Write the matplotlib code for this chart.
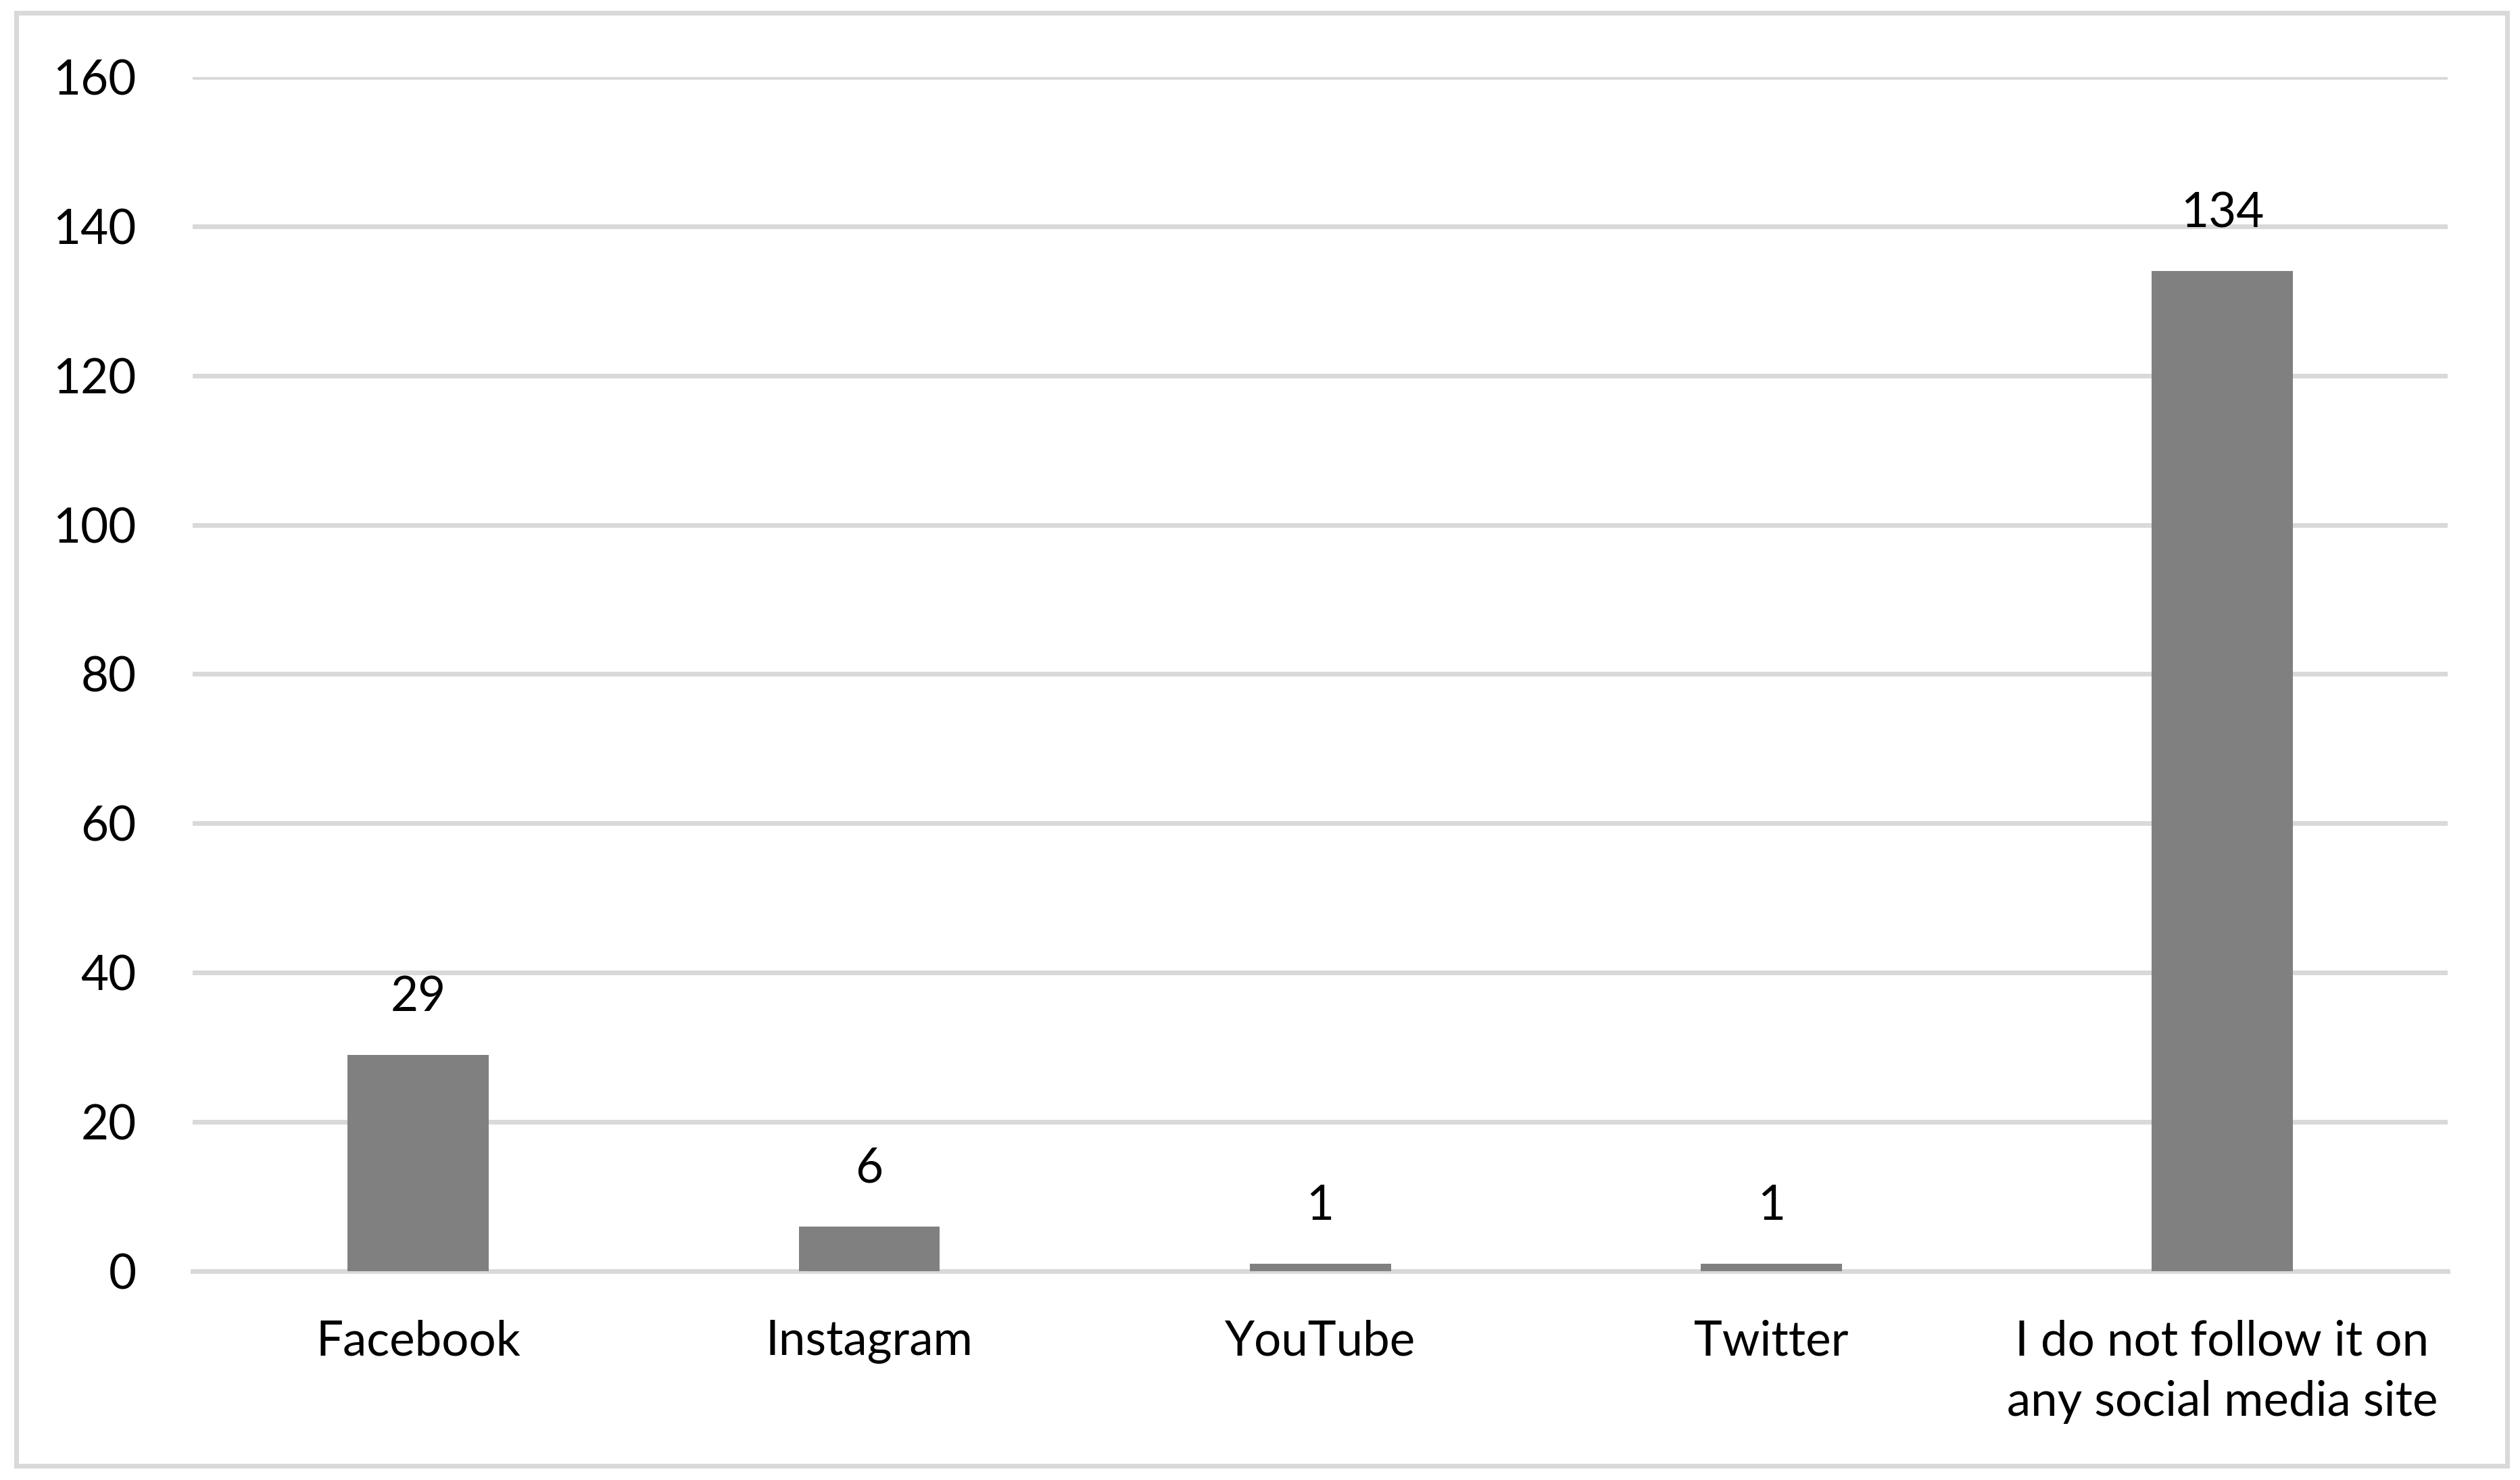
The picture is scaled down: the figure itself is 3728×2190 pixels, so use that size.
import matplotlib.pyplot as plt
from matplotlib.patches import Rectangle

# Dados
categorias = ['Facebook', 'Instagram', 'YouTube', 'Twitter',
              'I do not follow it on\nany social media site']
valores = [29, 6, 1, 1, 134]
ticks_y = [0, 20, 40, 60, 80, 100, 120, 140, 160]

plt.rcParams['font.family'] = ['Lato', 'DejaVu Sans']

fig = plt.figure(figsize=(18.64, 10.95), dpi=200)
ax = fig.add_axes([0.0765, 0.1412, 0.8948, 0.8067])

x = range(len(categorias))
barras = ax.bar(x, valores, width=0.313, color='#808080', zorder=3)
ax.bar_label(barras, labels=[str(v) for v in valores], padding=19, fontsize=25.5, color='black')

ax.set_xlim(-0.5, len(categorias) - 0.5)
ax.set_ylim(0, 160)
ax.set_yticks(ticks_y)
ax.set_xticks(list(x))
ax.set_xticklabels(categorias, fontsize=25.5, linespacing=1.45)
ax.tick_params(axis='y', labelsize=25.5, length=0, pad=30)
ax.tick_params(axis='x', length=0, pad=26)
ax.yaxis.grid(True, color='#d9d9d9', linewidth=2.5, zorder=0)
ax.set_axisbelow(True)
for lado in ['top', 'right', 'left']:
    ax.spines[lado].set_visible(False)
ax.spines['bottom'].set_color('#d9d9d9')
ax.spines['bottom'].set_linewidth(2.5)

# borda externa
borda = Rectangle((0.0065, 0.0098), 0.9885, 0.9815, transform=fig.transFigure,
                  fill=False, edgecolor='#d9d9d9', linewidth=2.5)
fig.patches.append(borda)

fig.savefig('out.png', dpi=200, facecolor='white')
